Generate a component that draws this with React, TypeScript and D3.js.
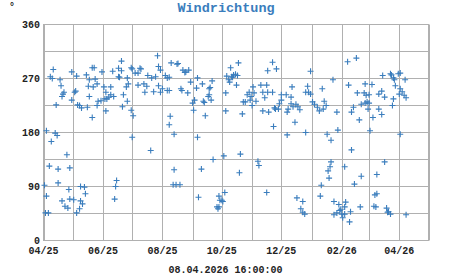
import React from "react";
import * as d3 from "d3";

const TITLE = "Windrichtung";
const UNIT = "°";
const TIMESTAMP = "08.04.2026 16:00:00";
const X_DOMAIN = ["2025-04-01", "2026-05-01"];
const Y_TICKS = [0, 90, 180, 270, 360];
const Y_GRID = [0, 45, 90, 135, 180, 225, 270, 315, 360];

// [date, wind direction in degrees]
const readings: [string, number][] = [
  ["2025-04-11", 285], ["2025-04-08", 273], ["2025-04-10", 270], ["2025-04-18", 268], ["2025-04-19", 258],
  ["2025-04-22", 247], ["2025-04-20", 240], ["2025-04-14", 226], ["2025-04-30", 281], ["2025-05-05", 274],
  ["2025-05-03", 247], ["2025-04-30", 234], ["2025-05-15", 276], ["2025-05-21", 288], ["2025-05-23", 288],
  ["2025-05-31", 281], ["2025-05-18", 268], ["2025-05-24", 269], ["2025-05-26", 261], ["2025-05-17", 257],
  ["2025-05-22", 256], ["2025-06-02", 256], ["2025-06-09", 256], ["2025-05-18", 240], ["2025-05-06", 226],
  ["2025-05-10", 221], ["2025-05-16", 222], ["2025-05-21", 205], ["2025-05-26", 225], ["2025-05-30", 233],
  ["2025-05-27", 232], ["2025-06-03", 236], ["2025-06-05", 236], ["2025-06-07", 239], ["2025-06-09", 243],
  ["2025-06-04", 216], ["2025-06-11", 282], ["2025-06-17", 287], ["2025-06-17", 273], ["2025-06-12", 240],
  ["2025-04-04", 183], ["2025-04-13", 179], ["2025-04-15", 175], ["2025-04-09", 165], ["2025-04-25", 143],
  ["2025-04-07", 124], ["2025-04-16", 119], ["2025-04-28", 121], ["2025-04-02", 92], ["2025-04-16", 96],
  ["2025-04-27", 85], ["2025-05-09", 90], ["2025-05-13", 89], ["2025-05-14", 78], ["2025-04-04", 74],
  ["2025-04-20", 66], ["2025-04-28", 69], ["2025-05-02", 68], ["2025-05-09", 66], ["2025-05-11", 61],
  ["2025-04-23", 57], ["2025-04-26", 54], ["2025-05-08", 53], ["2025-05-05", 46], ["2025-04-03", 46],
  ["2025-04-06", 46], ["2025-06-15", 100], ["2025-06-14", 90], ["2025-06-13", 69], ["2025-06-04", 247],
  ["2025-04-21", 244], ["2025-05-04", 249], ["2025-05-08", 225],
  ["2025-06-20", 299], ["2025-06-20", 283], ["2025-06-18", 272], ["2025-06-26", 271], ["2025-06-27", 261],
  ["2025-06-25", 256], ["2025-06-22", 243], ["2025-06-26", 232], ["2025-06-21", 223], ["2025-06-30", 217],
  ["2025-07-02", 208], ["2025-07-01", 172], ["2025-07-20", 150], ["2025-06-30", 288], ["2025-07-04", 279],
  ["2025-07-09", 287], ["2025-07-07", 279], ["2025-07-27", 308], ["2025-07-28", 290], ["2025-07-30", 284],
  ["2025-08-10", 296], ["2025-08-16", 294], ["2025-08-22", 284], ["2025-08-24", 280], ["2025-08-28", 284],
  ["2025-07-17", 275], ["2025-07-21", 271], ["2025-07-25", 273], ["2025-08-04", 275], ["2025-08-06", 271],
  ["2025-08-08", 272], ["2025-07-07", 259], ["2025-07-13", 261], ["2025-07-16", 257], ["2025-07-14", 247],
  ["2025-07-23", 248], ["2025-07-28", 258], ["2025-07-30", 247], ["2025-08-06", 250], ["2025-08-01", 253],
  ["2025-08-20", 253], ["2025-08-27", 246], ["2025-08-30", 264], ["2025-09-05", 254], ["2025-09-03", 234],
  ["2025-09-01", 229], ["2025-09-02", 217], ["2025-08-09", 207], ["2025-08-08", 193], ["2025-08-13", 177],
  ["2025-09-06", 172], ["2025-08-13", 118], ["2025-08-12", 93], ["2025-08-15", 93], ["2025-08-19", 93],
  ["2025-09-07", 72], ["2025-07-01", 286], ["2025-08-08", 250], ["2025-08-21", 250], ["2025-08-25", 281],
  ["2025-08-17", 295], ["2025-07-10", 286],
  ["2025-09-06", 271], ["2025-09-11", 261], ["2025-09-12", 232], ["2025-09-13", 230], ["2025-09-17", 240],
  ["2025-09-18", 243], ["2025-09-18", 253], ["2025-09-19", 255], ["2025-09-21", 266], ["2025-09-20", 234],
  ["2025-09-14", 208], ["2025-09-10", 119], ["2025-09-22", 135], ["2025-10-03", 141], ["2025-10-20", 144],
  ["2025-10-19", 113], ["2025-11-07", 132], ["2025-11-08", 125], ["2025-11-16", 80], ["2025-09-28", 74],
  ["2025-10-04", 80], ["2025-10-01", 67], ["2025-10-02", 65], ["2025-09-26", 56], ["2025-09-28", 56],
  ["2025-09-27", 53], ["2025-09-29", 67], ["2025-10-06", 274], ["2025-10-08", 268], ["2025-10-10", 288],
  ["2025-10-11", 273], ["2025-10-12", 272], ["2025-10-13", 276], ["2025-10-15", 277], ["2025-10-17", 275],
  ["2025-10-18", 296], ["2025-10-16", 259], ["2025-10-05", 246], ["2025-10-09", 264], ["2025-10-05", 216],
  ["2025-10-22", 211], ["2025-10-23", 231], ["2025-10-25", 231], ["2025-10-27", 243], ["2025-10-29", 247],
  ["2025-10-31", 240], ["2025-11-02", 256], ["2025-11-03", 246], ["2025-11-05", 232], ["2025-11-01", 225],
  ["2025-10-30", 234], ["2025-11-10", 259], ["2025-11-12", 247], ["2025-11-14", 238], ["2025-11-16", 259],
  ["2025-11-17", 247], ["2025-11-22", 247], ["2025-11-17", 283], ["2025-11-22", 297], ["2025-11-12", 216],
  ["2025-11-18", 214], ["2025-11-24", 221], ["2025-11-23", 190], ["2025-11-26", 286],
  ["2025-12-31", 282], ["2026-01-23", 268], ["2026-02-07", 298], ["2026-02-08", 259], ["2025-12-12", 256],
  ["2025-12-28", 257], ["2025-12-29", 247], ["2025-12-31", 244], ["2025-12-26", 247], ["2026-01-12", 253],
  ["2025-12-01", 243], ["2025-12-06", 243], ["2025-12-01", 234], ["2025-11-29", 228], ["2025-11-25", 219],
  ["2025-11-28", 219], ["2025-12-11", 239], ["2025-12-11", 228], ["2025-12-08", 219], ["2025-12-07", 214],
  ["2025-12-13", 223], ["2025-12-16", 227], ["2025-12-18", 223], ["2025-12-20", 218], ["2025-12-15", 197],
  ["2025-12-07", 176], ["2025-12-26", 180], ["2026-01-02", 231], ["2026-01-04", 227], ["2026-01-07", 222],
  ["2026-01-09", 216], ["2026-01-14", 232], ["2026-01-16", 225], ["2026-01-13", 219], ["2026-01-27", 214],
  ["2026-01-17", 177], ["2026-01-21", 167], ["2026-01-28", 184], ["2026-02-11", 151], ["2026-02-11", 214],
  ["2026-01-21", 131], ["2026-01-20", 123], ["2026-01-18", 116], ["2026-01-19", 104], ["2026-01-11", 92],
  ["2026-01-10", 74], ["2026-02-04", 123], ["2025-12-17", 71], ["2025-12-23", 65], ["2025-12-21", 53],
  ["2025-12-23", 47], ["2025-12-25", 44], ["2026-01-24", 65], ["2026-01-24", 43], ["2026-01-27", 46],
  ["2026-01-30", 50], ["2026-02-01", 44], ["2026-02-02", 38], ["2026-02-04", 56], ["2026-02-05", 64],
  ["2026-02-04", 44], ["2026-02-10", 48], ["2026-02-09", 31], ["2026-01-29", 60], ["2026-01-31", 52],
  ["2026-02-13", 222],
  ["2026-02-16", 304], ["2026-03-15", 275], ["2026-03-23", 278], ["2026-03-24", 276], ["2026-03-26", 271],
  ["2026-03-31", 278], ["2026-04-02", 279], ["2026-03-28", 258], ["2026-04-07", 268], ["2026-04-02", 253],
  ["2026-04-04", 248], ["2026-04-06", 242], ["2026-04-08", 238], ["2026-04-01", 244], ["2026-03-26", 236],
  ["2026-03-25", 225], ["2026-02-25", 261], ["2026-03-04", 260], ["2026-02-17", 246], ["2026-02-24", 246],
  ["2026-02-26", 242], ["2026-03-01", 243], ["2026-03-11", 244], ["2026-03-14", 249], ["2026-03-17", 239],
  ["2026-02-21", 227], ["2026-02-25", 229], ["2026-02-27", 231], ["2026-02-28", 219], ["2026-02-19", 201],
  ["2026-03-05", 205], ["2026-03-11", 219], ["2026-03-14", 210], ["2026-03-02", 183], ["2026-04-02", 177],
  ["2026-03-17", 131], ["2026-02-21", 107], ["2026-02-14", 94], ["2026-03-09", 110], ["2026-03-07", 76],
  ["2026-03-09", 78], ["2026-03-06", 57], ["2026-03-08", 56], ["2026-02-20", 56], ["2026-03-19", 54],
  ["2026-03-21", 48], ["2026-03-20", 47], ["2026-03-23", 44], ["2026-04-08", 43], ["2026-03-27", 268],
  ["2026-03-01", 229],
];

const W = 451;
const H = 275;
const M = { left: 43.5, right: 428.5, top: 24.5, bottom: 240.5 };
const MONO = "'Liberation Mono', 'Courier New', monospace";
const BLUE = "#3a7dbd";
const GRID = "#b0b0b0";

export default function App() {
  const parse = d3.timeParse("%Y-%m-%d");
  const x = d3
    .scaleTime()
    .domain(X_DOMAIN.map((d) => parse(d) as Date))
    .range([M.left, M.right]);
  const y = d3.scaleLinear().domain([0, 360]).range([M.bottom, M.top]);
  const months = d3.timeMonth.range(x.domain()[0], d3.timeDay.offset(x.domain()[1], 1));
  const labelMonths = months.filter((_, i) => i % 2 === 0);
  const fmt = d3.timeFormat("%m/%y");
  const arm = 3;

  return (
    <svg
      width={W}
      height={H}
      style={{ position: "absolute", left: 0, top: 0, background: "#fff" }}
      fontFamily={MONO}
    >
      <rect x={0} y={0} width={W} height={H} fill="#fff" />
      <text x={226} y={12} textAnchor="middle" fontSize={13.5} fontWeight="bold" fill={BLUE}>
        {TITLE}
      </text>
      <text x={9} y={10} fontSize={10} fontWeight="bold" fill="#222">
        {UNIT}
      </text>
      {Y_GRID.map((v) => (
        <line key={"h" + v} x1={M.left} x2={M.right} y1={y(v)} y2={y(v)} stroke={GRID} strokeWidth={1} />
      ))}
      {months.map((m) => {
        const px = Math.round(x(m)) + 0.5;
        return <line key={"v" + +m} x1={px} x2={px} y1={M.top} y2={M.bottom} stroke={GRID} strokeWidth={1} />;
      })}
      <rect x={M.left} y={M.top} width={M.right - M.left} height={M.bottom - M.top} fill="none" stroke={GRID} strokeWidth={1} />
      {Y_TICKS.map((v) => (
        <text key={"yl" + v} x={40} y={y(v) + 3.5} textAnchor="end" fontSize={10} fontWeight="bold" fill="#222">
          {v}
        </text>
      ))}
      {labelMonths.map((m) => (
        <text key={"xl" + +m} x={x(m)} y={254} textAnchor="middle" fontSize={10} fontWeight="bold" fill="#222">
          {fmt(m)}
        </text>
      ))}
      <text x={225.5} y={272.5} textAnchor="middle" fontSize={10} fontWeight="bold" fill="#222">
        {TIMESTAMP}
      </text>
      <g stroke={BLUE} strokeWidth={1.1}>
        {readings.map(([d, v], i) => {
          const px = x(parse(d) as Date);
          const py = y(v);
          return (
            <path key={i} d={`M${px - arm},${py}H${px + arm}M${px},${py - arm}V${py + arm}`} fill="none" />
          );
        })}
      </g>
    </svg>
  );
}
